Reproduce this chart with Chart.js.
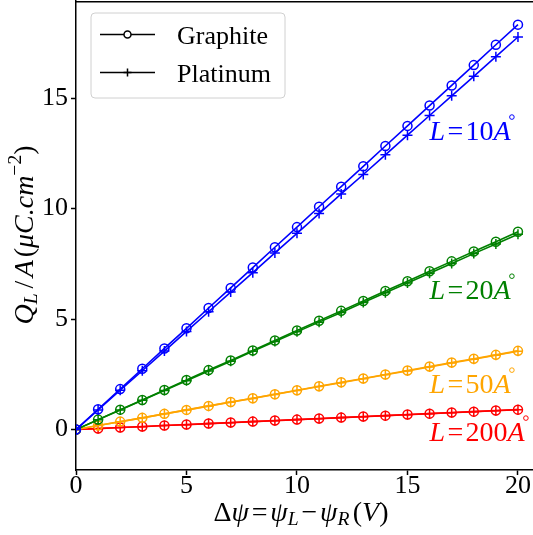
<!DOCTYPE html>
<html><head><meta charset="utf-8">
<script src="https://cdn.jsdelivr.net/npm/chart.js@4/dist/chart.umd.min.js"></script>
<style>html,body{margin:0;padding:0;background:#fff;}#wrap{width:533px;height:535px;position:relative;}</style>
</head><body><div id="wrap"><canvas id="c" width="533" height="535"></canvas></div>
<script>
const xValues = [0,1,2,3,4,5,6,7,8,9,10,11,12,13,14,15,16,17,18,19,20];
const graphite10 = [0,0.92,1.83,2.75,3.67,4.58,5.50,6.41,7.33,8.25,9.16,10.08,10.99,11.91,12.83,13.74,14.66,15.57,16.49,17.41,18.32];
const platinum10 = [0,0.89,1.78,2.66,3.55,4.44,5.33,6.22,7.10,7.99,8.88,9.77,10.66,11.54,12.43,13.32,14.21,15.10,15.98,16.87,17.76];
const graphite20 = [0,0.45,0.90,1.34,1.79,2.24,2.69,3.13,3.58,4.03,4.48,4.92,5.37,5.82,6.27,6.71,7.16,7.61,8.06,8.50,8.95];
const platinum20 = [0,0.44,0.88,1.33,1.77,2.21,2.65,3.09,3.54,3.98,4.42,4.86,5.30,5.75,6.19,6.63,7.07,7.51,7.96,8.40,8.84];
const graphite50 = [0,0.18,0.36,0.53,0.71,0.89,1.07,1.25,1.42,1.60,1.78,1.96,2.14,2.31,2.49,2.67,2.85,3.03,3.20,3.38,3.56];
const platinum50 = [0,0.18,0.35,0.53,0.71,0.88,1.06,1.24,1.41,1.59,1.77,1.95,2.12,2.30,2.48,2.65,2.83,3.01,3.18,3.36,3.54];
const graphite200 = [0,0.05,0.09,0.14,0.18,0.23,0.27,0.32,0.36,0.41,0.45,0.50,0.54,0.59,0.63,0.68,0.72,0.77,0.81,0.86,0.90];
const platinum200 = [0,0.04,0.09,0.13,0.18,0.22,0.27,0.31,0.36,0.40,0.45,0.49,0.54,0.58,0.63,0.67,0.72,0.76,0.81,0.85,0.90];
const xTicks = [0,5,10,15,20];
const yTicks = [0,5,10,15];
const seriesNames = ['Graphite','Platinum'];
const lengthLabels = ['10','20','50','200'];
const colors = ['#0000ff','#008000','#ffa500','#ff0000'];
// annotation anchor points (data coords, left/baseline)
const labelX = [16,16,16,16];
const labelY = [13.1,5.9,1.65,-0.52];

const FONT = '"Liberation Serif", "Times New Roman", serif';
const pts = arr => xValues.map((x,i)=>({x:x,y:arr[i]}));
const groups = [[graphite10,platinum10],[graphite20,platinum20],[graphite50,platinum50],[graphite200,platinum200]];
const datasets = [];
groups.forEach((g,k)=>{
  g.forEach((arr,j)=>{
    datasets.push({
      label: seriesNames[j] + ' L=' + lengthLabels[k],
      data: pts(arr),
      borderColor: colors[k],
      backgroundColor: 'rgba(0,0,0,0)',
      borderWidth: 1.6,
      pointStyle: j===0 ? 'circle' : 'cross',
      pointRadius: j===0 ? 4.5 : 5,
      pointBorderWidth: 1.5,
      pointBorderColor: colors[k],
      pointBackgroundColor: 'rgba(0,0,0,0)',
      pointHoverRadius: 0,
      tension: 0,
      fill: false
    });
  });
});

function drawRich(ctx, segs, x, y, size, color, align, rot){
  let w = 0; const parts = [];
  for (const s of segs){
    const fs = size*(s.sz||1);
    const font = (s.it?'italic ':'') + fs + 'px ' + FONT;
    ctx.font = font;
    const sp = (s.sp||0)*size;
    const mw = ctx.measureText(s.t).width;
    parts.push({font:font, x:w+sp, dy:(s.dy||0)*size, t:s.t, ring:s.ring});
    w += sp + mw + (s.sa||0)*size;
  }
  ctx.save();
  ctx.translate(x,y);
  if (rot) ctx.rotate(rot);
  const off = align==='center' ? -w/2 : 0;
  ctx.fillStyle = color; ctx.strokeStyle = color; ctx.textBaseline = 'alphabetic'; ctx.textAlign='left';
  for (const p of parts){
    ctx.font = p.font; ctx.fillText(p.t, off+p.x, p.dy);
    if (p.ring){
      ctx.lineWidth = 1;
      ctx.beginPath(); ctx.arc(off+p.x+0.66*size, p.dy-0.82*size, 2.3, 0, Math.PI*2); ctx.stroke();
    }
  }
  ctx.restore();
  return w;
}

const deco = {
  id:'deco',
  afterDraw(chart){
    const ctx = chart.ctx, ca = chart.chartArea, xs = chart.scales.x, ys = chart.scales.y;
    ctx.save();
    // top spine
    ctx.strokeStyle = '#000'; ctx.lineWidth = 1.5;
    ctx.beginPath(); ctx.moveTo(ca.left-0.75, ca.top+0.75); ctx.lineTo(ca.right, ca.top+0.75); ctx.stroke();
    // annotations
    lengthLabels.forEach((L,k)=>{
      const px = xs.getPixelForValue(labelX[k]), py = ys.getPixelForValue(labelY[k]);
      drawRich(ctx, [{t:'L',it:true},{t:'=',sp:0.08,sa:0.08},{t:L},{t:'A',it:true,ring:true}], px, py, 28, colors[k], 'left');
    });
    // legend
    const lx=91, ly=13, lw=194, lh=85, r=4;
    ctx.beginPath();
    ctx.moveTo(lx+r,ly); ctx.lineTo(lx+lw-r,ly); ctx.quadraticCurveTo(lx+lw,ly,lx+lw,ly+r);
    ctx.lineTo(lx+lw,ly+lh-r); ctx.quadraticCurveTo(lx+lw,ly+lh,lx+lw-r,ly+lh);
    ctx.lineTo(lx+r,ly+lh); ctx.quadraticCurveTo(lx,ly+lh,lx,ly+lh-r);
    ctx.lineTo(lx,ly+r); ctx.quadraticCurveTo(lx,ly,lx+r,ly); ctx.closePath();
    ctx.fillStyle='rgba(255,255,255,0.8)'; ctx.fill();
    ctx.strokeStyle='#d0d0d0'; ctx.lineWidth=1; ctx.stroke();
    const rows=[34.5,72.5];
    seriesNames.forEach((n,j)=>{
      const yy=rows[j];
      ctx.strokeStyle='#000'; ctx.lineWidth=1.5;
      ctx.beginPath(); ctx.moveTo(100,yy); ctx.lineTo(155,yy); ctx.stroke();
      ctx.beginPath();
      if (j===0){ ctx.fillStyle='#fff'; ctx.arc(127.5,yy,3.5,0,Math.PI*2); ctx.fill(); ctx.stroke(); }
      else { ctx.moveTo(127.5,yy-4); ctx.lineTo(127.5,yy+4); ctx.moveTo(123.5,yy); ctx.lineTo(131.5,yy); ctx.stroke(); }
      ctx.fillStyle='#000'; ctx.font='26px '+FONT; ctx.textBaseline='alphabetic'; ctx.textAlign='left';
      ctx.fillText(n,177,yy+9.5);
    });
    // x label
    drawRich(ctx, [{t:'Δ'},{t:'ψ',it:true},{t:'=',sp:0.1,sa:0.1},{t:'ψ',it:true},{t:'L',it:true,sz:0.7,dy:0.15},
      {t:'−',sp:0.1,sa:0.1},{t:'ψ',it:true},{t:'R',it:true,sz:0.7,dy:0.15},{t:'(',sp:0.12},{t:'V',it:true},{t:')'}],
      301, 521, 28, '#000', 'center');
    // y label
    drawRich(ctx, [{t:'Q',it:true},{t:'L',it:true,sz:0.7,dy:0.15},{t:'/',sp:0.18,sa:0.12},{t:'A',it:true},
      {t:'(',sp:0.1},{t:'μC.cm',it:true},{t:'−2',sz:0.7,dy:-0.42},{t:')'}],
      33, 235, 28, '#000', 'center', -Math.PI/2);
    ctx.restore();
  }
};

new Chart(document.getElementById('c'), {
  type:'line',
  data:{datasets:datasets},
  options:{
    responsive:false, animation:false, devicePixelRatio:1,
    layout:{autoPadding:false, padding:{top:1,right:0,left:0,bottom:0}},
    plugins:{legend:{display:false}, tooltip:{enabled:false}},
    scales:{
      x:{type:'linear', min:0, max:20.68,
        afterFit(s){ s.height=65; s.paddingLeft=0; s.paddingRight=0; },
        afterBuildTicks(s){ s.ticks = xTicks.map(v=>({value:v})); },
        ticks:{font:{family:FONT,size:26}, color:'#000', padding:-4, maxRotation:0, autoSkip:false},
        grid:{drawOnChartArea:false, drawTicks:true, tickLength:5, tickWidth:1.5, tickColor:'#000'},
        border:{display:true, color:'#000', width:1.5}
      },
      y:{type:'linear', min:-1.83, max:19.39,
        afterFit(s){ s.width=76; s.paddingTop=0; s.paddingBottom=0; },
        afterBuildTicks(s){ s.ticks = yTicks.map(v=>({value:v})); },
        ticks:{font:{family:FONT,size:26}, color:'#000', padding:3, autoSkip:false},
        grid:{drawOnChartArea:false, drawTicks:true, tickLength:5, tickWidth:1.5, tickColor:'#000'},
        border:{display:true, color:'#000', width:1.5}
      }
    }
  },
  plugins:[deco]
});
</script></body></html>
